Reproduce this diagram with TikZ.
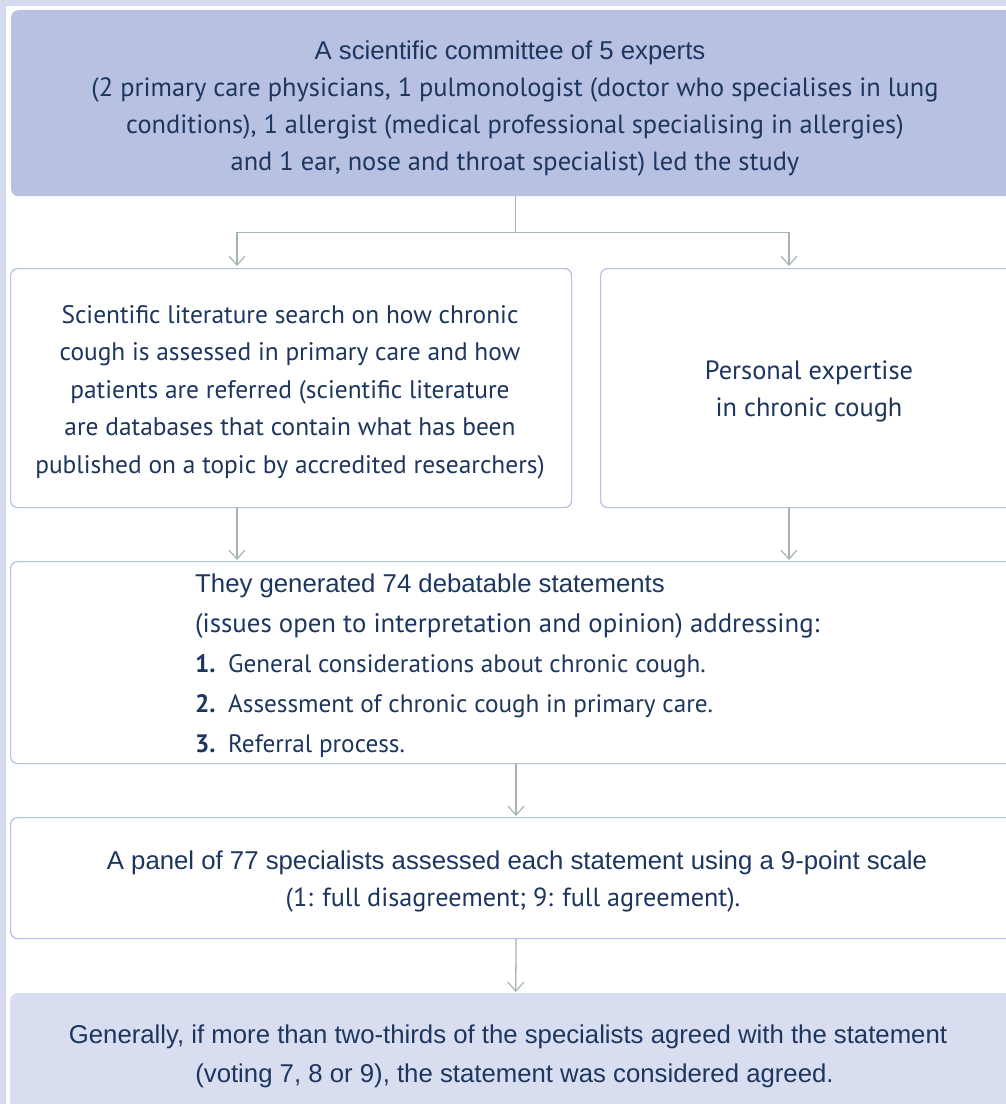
\documentclass[tikz,border=0pt]{standalone}
\usepackage{fontspec}
\setmainfont{PT Sans}
\newfontfamily\arialf{Liberation Sans}
\usetikzlibrary{arrows.meta,calc}
\definecolor{navy}{HTML}{1C3660}
\definecolor{topfill}{HTML}{B9C1E2}
\definecolor{botfill}{HTML}{D9DDF0}
\definecolor{boxline}{HTML}{B6BFE6}
\definecolor{arrowc}{HTML}{A6B5B3}
\definecolor{framec}{HTML}{D6DAEE}
\newcommand\arialsz{\arialf\fontsize{25.75}{37}\selectfont}
\tikzset{
  panel/.style={rectangle, rounded corners=7pt, inner sep=0pt, anchor=north west},
  whitebox/.style={panel, draw=boxline, line width=1.2pt, fill=white},
  txt/.style={text=navy, font=\fontsize{26.4}{37}\selectfont, align=center, inner sep=0pt},
  conn/.style={draw=arrowc, line width=1.3pt},
  arr/.style={conn, -{Straight Barb[length=9pt,width=16pt,line width=1.2pt]}}
}
\begin{document}
\begin{tikzpicture}[x=1pt,y=-1pt]
\useasboundingbox (0,0) rectangle (1006,1104);
\clip (0,0) rectangle (1006,1104);
\fill[framec] (0,0) rectangle (1006,1104);
\fill[white] (6,6) rectangle (1006,1104);

% boxes
\node[panel, fill=topfill, minimum width=1009pt, minimum height=186pt] (top) at (11,10) {};
\node[whitebox, minimum width=561pt, minimum height=239pt] (left) at (10,268) {};
\node[whitebox, minimum width=420pt, minimum height=239pt] (right) at (600,268) {};
\node[whitebox, minimum width=1011pt, minimum height=202pt] (box3) at (10,561) {};
\node[whitebox, minimum width=1011pt, minimum height=121pt] (box4) at (10,817) {};
\node[panel, fill=botfill, minimum width=1011pt, minimum height=160pt] (box5) at (10,993) {};

% texts
\node[txt] (ttop) at (515,109) {{\arialsz A scientific committee of 5 experts}\hspace*{10pt}\\
(2 primary care physicians, 1 pulmonologist (doctor who specialises in lung\\
conditions), 1 allergist (medical professional specialising in allergies)\\
and 1 ear, nose and throat specialist) led the study};
\node[txt, font=\fontsize{25.4}{37.5}\selectfont] (tleft) at (290,392) {Scientific literature search on how chronic\\
cough is assessed in primary care and how\\
patients are referred (scientific literature\\
are databases that contain what has been\\
published on a topic by accredited researchers)};
\node[txt] (tright) at (809,391) {Personal expertise\\ in chronic cough};
\node[txt, align=left, anchor=west, font=\fontsize{25.2}{40}\selectfont] (t3) at (195,666) {{\arialsz They generated 74 debatable statements}\\
{\fontsize{26.8}{40}\selectfont (issues open to interpretation and opinion) addressing:}\\
\makebox[33pt][l]{\bfseries 1.}General considerations about chronic cough.\\
\makebox[33pt][l]{\bfseries 2.}Assessment of chronic cough in primary care.\\
\makebox[33pt][l]{\bfseries 3.}Referral process.};
\node[txt, font=\fontsize{26.2}{37}\selectfont] (t4) at (517,882) {{\arialsz A panel of 77 specialists assessed each statement using a 9-point scale}\\
(1: full disagreement; 9: full agreement).\hspace*{8pt}};
\node[txt, font=\arialsz\fontsize{25.75}{39}\selectfont] (t5) at (508,1056) {Generally, if more than two-thirds of the specialists agreed with the statement\\
\hspace*{13pt}(voting 7, 8 or 9), the statement was considered agreed.};

% connectors
\draw[conn] (top.south) -- ++(0,36) coordinate (split);
\draw[arr] (split) -| ($(left.north west)+(227,-2)$);
\draw[arr] (split) -| ($(right.north west)+(189,-2)$);
\draw[arr] ($(left.south west)+(227,0)$) -- ($(box3.north west)+(227,-1)$);
\draw[arr] ($(right.south west)+(189,0)$) -- ($(box3.north west)+(779,-1)$);
\draw[arr] (box3.south) -- ($(box4.north)+(0,-1)$);
\draw[arr] (box4.south) -- ($(box5.north)+(0,-1)$);
\end{tikzpicture}
\end{document}
